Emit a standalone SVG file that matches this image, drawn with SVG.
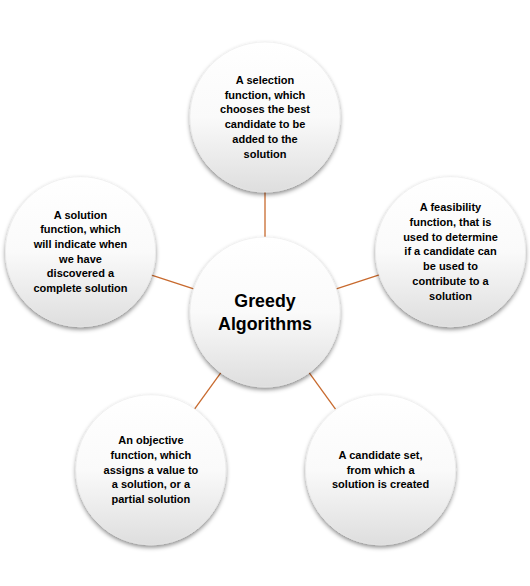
<svg xmlns="http://www.w3.org/2000/svg" width="530" height="586" viewBox="0 0 530 586">
<defs>
<linearGradient id="g" x1="0" y1="0" x2="0" y2="1">
<stop offset="0" stop-color="#ffffff"/>
<stop offset="0.5" stop-color="#fafafa"/>
<stop offset="1" stop-color="#dedede"/>
</linearGradient>
<filter id="sh" x="-20%" y="-20%" width="140%" height="140%">
<feDropShadow dx="0" dy="2.5" stdDeviation="2" flood-color="#000" flood-opacity="0.45"/>
</filter>
</defs>
<style>
.c{fill:url(#g);stroke:#ebebeb;stroke-width:0.6;filter:url(#sh)}
.t{font-family:"Liberation Sans",Arial,sans-serif;font-weight:bold;font-size:11px;fill:#000;text-anchor:middle}
.big{font-size:17.8px}
.ln{stroke:#C86A2E;stroke-width:1.3;fill:none}
</style>
<rect width="530" height="586" fill="#fff"/>
<g id="connectors">
<line class="ln" x1="265" y1="237" x2="265" y2="192"/>
<line class="ln" x1="336.3" y1="288.8" x2="379.2" y2="274.9"/>
<line class="ln" x1="193.7" y1="288.8" x2="150.8" y2="274.9"/>
<line class="ln" x1="309.1" y1="372.7" x2="335.5" y2="409.1"/>
<line class="ln" x1="220.9" y1="372.7" x2="194.5" y2="409.1"/>
</g>
<g id="center">
<circle class="c" cx="265" cy="312" r="75"/>
<text class="t big" x="265" y="306.5">Greedy</text>
<text class="t big" x="265" y="329.5">Algorithms</text>
</g>
<g id="selection">
<circle class="c" cx="265" cy="117" r="75"/>
<text class="t" x="265" y="84">A selection</text>
<text class="t" x="265" y="98.7">function, which</text>
<text class="t" x="265" y="113.4">chooses the best</text>
<text class="t" x="265" y="128.1">candidate to be</text>
<text class="t" x="265" y="142.8">added to the</text>
<text class="t" x="265" y="157.5">solution</text>
</g>
<g id="feasibility">
<circle class="c" cx="450.5" cy="251.7" r="75"/>
<text class="t" x="450.5" y="211.3">A feasibility</text>
<text class="t" x="450.5" y="226">function, that is</text>
<text class="t" x="450.5" y="240.7">used to determine</text>
<text class="t" x="450.5" y="255.4">if a candidate can</text>
<text class="t" x="450.5" y="270.1">be used to</text>
<text class="t" x="450.5" y="284.8">contribute to a</text>
<text class="t" x="450.5" y="299.5">solution</text>
</g>
<g id="solutionfn">
<circle class="c" cx="80.5" cy="251.7" r="75"/>
<text class="t" x="80.5" y="218.6">A solution</text>
<text class="t" x="80.5" y="233.3">function, which</text>
<text class="t" x="80.5" y="248">will indicate when</text>
<text class="t" x="80.5" y="262.7">we have</text>
<text class="t" x="80.5" y="277.4">discovered a</text>
<text class="t" x="80.5" y="292.1">complete solution</text>
</g>
<g id="candidate">
<circle class="c" cx="380.6" cy="469.8" r="75"/>
<text class="t" x="380.6" y="458.8">A candidate set,</text>
<text class="t" x="380.6" y="473.5">from which a</text>
<text class="t" x="380.6" y="488.2">solution is created</text>
</g>
<g id="objective">
<circle class="c" cx="150.9" cy="469.8" r="75"/>
<text class="t" x="150.9" y="444.1">An objective</text>
<text class="t" x="150.9" y="458.8">function, which</text>
<text class="t" x="150.9" y="473.5">assigns a value to</text>
<text class="t" x="150.9" y="488.2">a solution, or a</text>
<text class="t" x="150.9" y="502.9">partial solution</text>
</g>
</svg>
